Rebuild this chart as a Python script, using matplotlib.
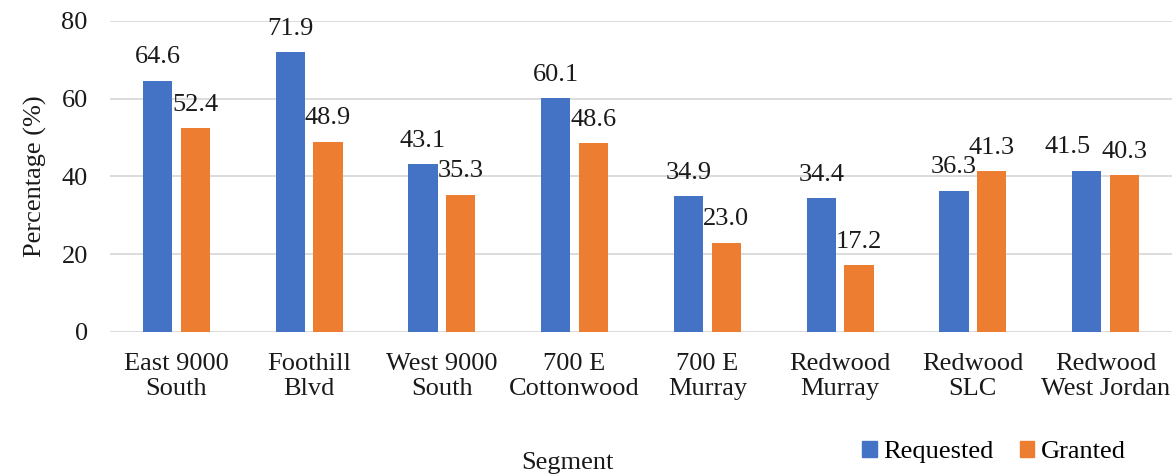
import numpy as np
import matplotlib.pyplot as plt
from matplotlib.patches import Patch

segments = ["East 9000\nSouth", "Foothill\nBlvd", "West 9000\nSouth", "700 E\nCottonwood",
            "700 E\nMurray", "Redwood\nMurray", "Redwood\nSLC", "Redwood\nWest Jordan"]
requested = [64.6, 71.9, 43.1, 60.1, 34.9, 34.4, 36.3, 41.5]
granted = [52.4, 48.9, 35.3, 48.6, 23.0, 17.2, 41.3, 40.3]

BLUE = "#4472C4"
ORANGE = "#ED7D31"
TEXT = "#1a1a1a"
FS = 19

plt.rcParams["font.family"] = ["Liberation Serif", "DejaVu Serif"]

fig = plt.figure(figsize=(11.75, 4.74), dpi=100)
ax = fig.add_axes([0.0936, 0.2996, 0.9038, 0.6561])

x = np.arange(len(segments))
width = 0.22
offset = 0.142

b1 = ax.bar(x - offset, requested, width, color=BLUE, zorder=3)
b2 = ax.bar(x + offset, granted, width, color=ORANGE, zorder=3)

# labels of near-equal neighbours collide, so push the left one aside
nudge = {(0, 7): -14}
for k, (bars, vals) in enumerate(((b1, requested), (b2, granted))):
    for i, (rect, v) in enumerate(zip(bars, vals)):
        ax.annotate(f"{v:.1f}", (rect.get_x() + rect.get_width() / 2, v),
                    xytext=(nudge.get((k, i), 0), 9), textcoords="offset points",
                    ha="center", va="bottom", fontsize=FS, color=TEXT)

ax.set_xlim(-0.5, len(segments) - 0.5)
ax.set_ylim(0, 80)
ax.set_yticks([0, 20, 40, 60, 80])
ax.set_xticks(x)
ax.set_xticklabels(segments, fontsize=FS, linespacing=1.2, color=TEXT)
ax.tick_params(axis="y", labelsize=FS, labelcolor=TEXT, length=0, pad=16)
ax.tick_params(axis="x", length=0, pad=15)
ax.grid(axis="y", color="#d9d9d9", linewidth=1.3, zorder=0)
for s in ax.spines.values():
    s.set_visible(False)

ax.set_ylabel("Percentage (%)", fontsize=FS, color=TEXT, labelpad=10)
fig.text(0.483, 0.0, "Segment", ha="center", va="bottom", fontsize=FS, color=TEXT)

handles = [Patch(color=BLUE, label="Requested"), Patch(color=ORANGE, label="Granted")]
fig.legend(handles=handles, loc="center", bbox_to_anchor=(0.846, 0.046), ncol=2,
           frameon=False, fontsize=FS, handlelength=0.55, handleheight=0.55,
           handletextpad=0.25, columnspacing=1.0)

fig.savefig("out.png", dpi=100)
